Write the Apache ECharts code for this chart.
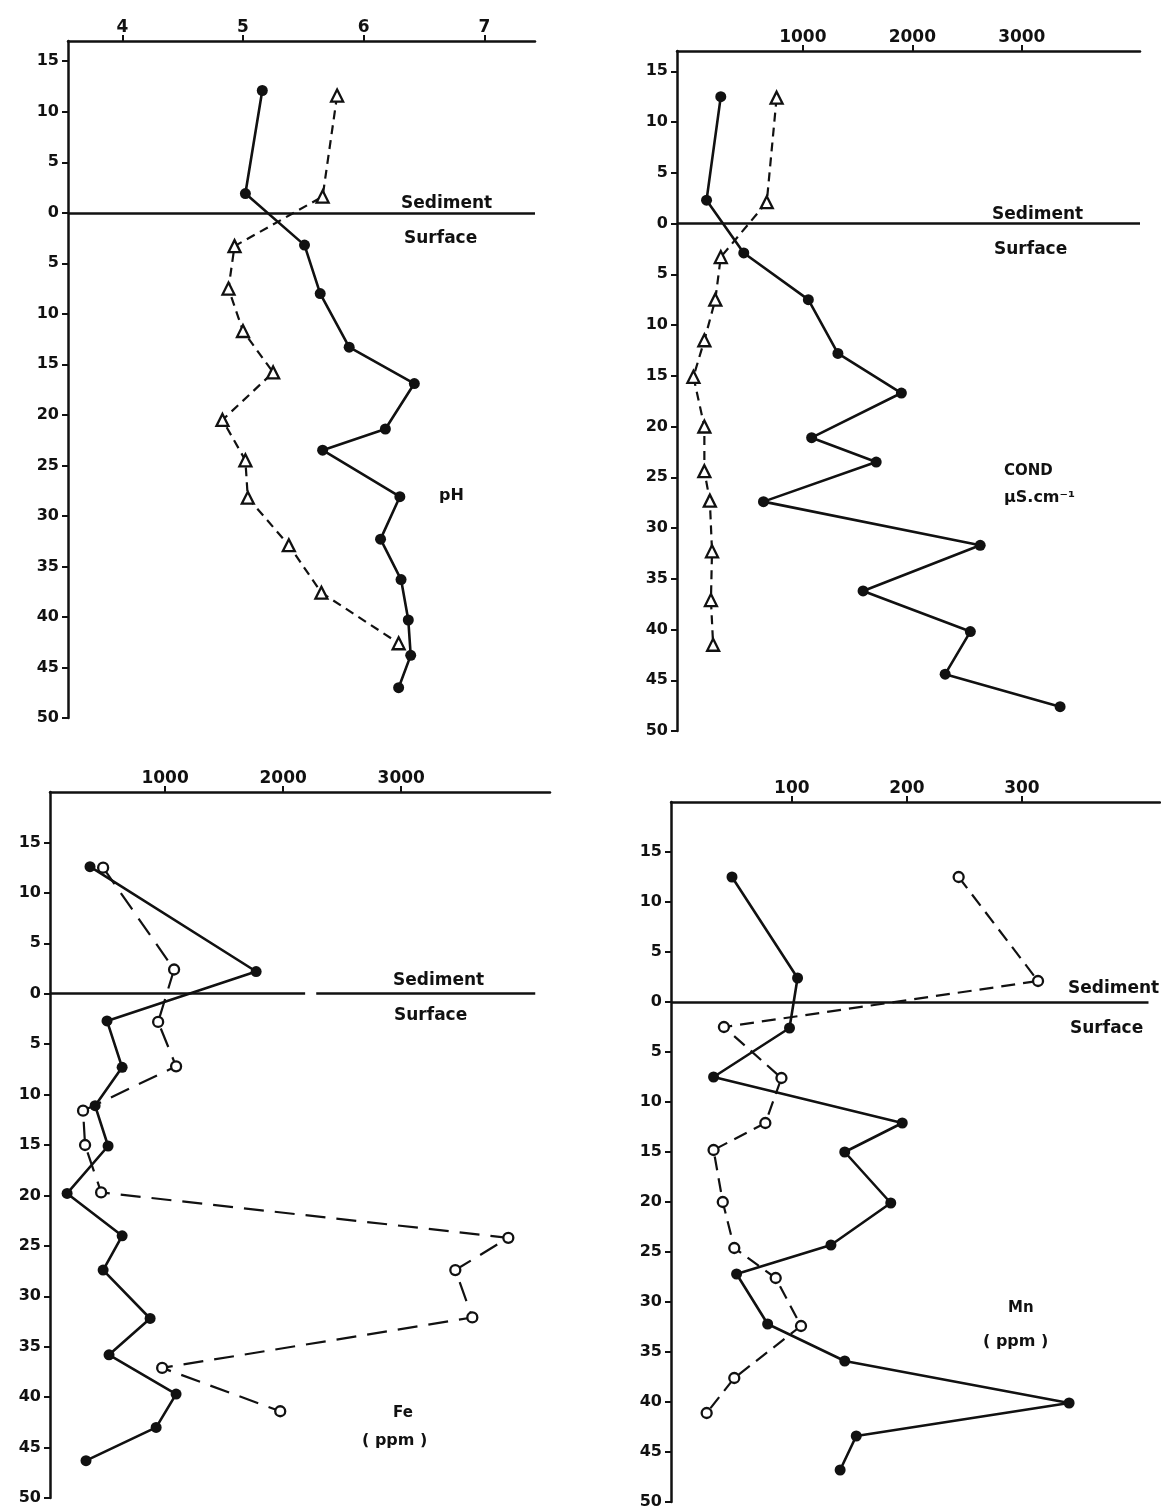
<!DOCTYPE html>
<html><head><meta charset="utf-8">
<script src="https://cdn.jsdelivr.net/npm/echarts@6/dist/echarts.min.js"></script>
<style>html,body{margin:0;padding:0;background:#fff}#c{width:1161px;height:1510px}</style>
</head><body><div id="c"></div>
<script>
// ---------- tick labels ----------
const depthTicks = [15,10,5,0,-5,-10,-15,-20,-25,-30,-35,-40,-45,-50];
const phTicks = [4,5,6,7];
const condTicks = [1000,2000,3000];
const feTicks = [1000,2000,3000];
const mnTicks = [100,200,300];

// ---------- pH ----------
const phSolidDepth = [12.1,1.9,-3.2,-8.0,-13.3,-16.9,-21.4,-23.5,-28.1,-32.3,-36.3,-40.3,-43.8,-47.0];
const phSolid      = [5.16,5.02,5.51,5.64,5.88,6.42,6.18,5.66,6.30,6.14,6.31,6.37,6.39,6.29];
const phOpenDepth  = [11.6,1.6,-3.3,-7.5,-11.7,-15.8,-20.5,-24.5,-28.2,-32.9,-37.6,-42.6];
const phOpen       = [5.78,5.66,4.93,4.88,5.00,5.25,4.83,5.02,5.04,5.38,5.65,6.29];

// ---------- COND (µS/cm) ----------
const condSolidDepth = [12.5,2.3,-2.9,-7.5,-12.8,-16.7,-21.1,-23.5,-27.4,-31.7,-36.2,-40.2,-44.4,-47.6];
const condSolid      = [250,120,460,1050,1320,1900,1080,1670,640,2620,1550,2530,2300,3350];
const condOpenDepth  = [12.4,2.1,-3.3,-7.5,-11.5,-15.1,-20.0,-24.4,-27.3,-32.3,-37.1,-41.5];
const condOpen       = [760,670,250,200,100,0,100,100,150,170,160,180];

// ---------- Fe (ppm) ----------
const feSolidDepth = [12.6,2.2,-2.7,-7.3,-11.1,-15.1,-19.8,-24.0,-27.4,-32.2,-35.8,-39.7,-43.0,-46.3];
const feSolid      = [364,1771,508,636,407,517,170,636,475,873,525,1093,924,330];
const feOpenDepth  = [12.5,2.4,-2.8,-7.2,-11.6,-15.0,-19.7,-24.2,-27.4,-32.1,-37.1,-41.4];
const feOpen       = [475,1076,941,1093,305,322,458,3907,3458,3602,975,1975];

// ---------- Mn (ppm) ----------
const mnSolidDepth = [12.5,2.4,-2.6,-7.5,-12.1,-15.0,-20.1,-24.3,-27.2,-32.2,-35.9,-40.1,-43.4,-46.8];
const mnSolid      = [48,105,98,32,196,146,186,134,52,79,146,341,156,142];
const mnOpenDepth  = [12.5,2.1,-2.5,-7.6,-12.1,-14.8,-20.0,-24.6,-27.6,-32.4,-37.6,-41.1];
const mnOpen       = [245,314,41,91,77,32,40,50,86,108,50,26];

const INK = '#111';
const FONT = 'DejaVu Sans';

function pairs(xs, ds){ return xs.map((v,i)=>[v, ds[i]]); }

const grids = [
  {left:68,  top:41,  width:467, height:677},
  {left:677, top:51,  width:463, height:680},
  {left:50,  top:792, width:500, height:706},
  {left:671, top:802, width:489, height:700}
];
const xCfg = [
  {min:3.55, max:7.42, ticks:phTicks},
  {min:-150, max:4080, ticks:condTicks},
  {min:25,   max:4260, ticks:feTicks},
  {min:-5,   max:420,  ticks:mnTicks}
];
const yCfg = [{max:17},{max:17},{max:20},{max:20}];

const xAxis = xCfg.map((c,i)=>({
  type:'value', gridIndex:i, position:'top', min:c.min, max:c.max,
  axisLine:{show:true, onZero:false, lineStyle:{color:INK, width:2.5}},
  axisTick:{show:true, length:6, lineStyle:{color:INK, width:2}, customValues:c.ticks},
  axisLabel:{show:true, customValues:c.ticks, color:INK, fontFamily:FONT, fontWeight:'bold', fontSize:17, margin:5,
    formatter:v=>String(v)},
  splitLine:{show:false}
}));
const yAxis = yCfg.map((c,i)=>({
  type:'value', gridIndex:i, min:-50, max:c.max,
  axisLine:{show:true, onZero:false, lineStyle:{color:INK, width:2.5}},
  axisTick:{show:true, length:6, lineStyle:{color:INK, width:2}, customValues:depthTicks},
  axisLabel:{show:true, customValues:depthTicks, color:INK, fontFamily:FONT, fontWeight:'bold', fontSize:16, margin:9,
    formatter:v=>String(Math.abs(v))},
  splitLine:{show:false}
}));

function solidSeries(i, xs, ds, surface){
  const s = {
    type:'line', xAxisIndex:i, yAxisIndex:i, data:pairs(xs,ds),
    symbol:'circle', symbolSize:11,
    itemStyle:{color:INK},
    lineStyle:{color:INK, width:2.6},
    animation:false, silent:true, z:3
  };
  if (surface) s.markLine = {symbol:'none', silent:true, animation:false, label:{show:false},
    lineStyle:{color:INK, width:2.6, type:'solid'}, data:surface};
  return s;
}
function openSeries(i, xs, ds, sym, dash){
  return {
    type:'line', xAxisIndex:i, yAxisIndex:i, data:pairs(xs,ds),
    symbol:sym, symbolSize: sym==='triangle'?12:10, showAllSymbol:true,
    itemStyle:{color:'#fff', borderColor:INK, borderWidth:2.3},
    lineStyle:{color:INK, width:2.2, type:dash},
    animation:false, silent:true, z:4
  };
}

const series = [
  solidSeries(0, phSolid, phSolidDepth, [[{coord:[3.55,0]},{coord:[7.42,0]}]]),
  openSeries(0, phOpen, phOpenDepth, 'triangle', [9,6]),
  solidSeries(1, condSolid, condSolidDepth, [[{coord:[-150,0]},{coord:[4080,0]}]]),
  openSeries(1, condOpen, condOpenDepth, 'triangle', [9,6]),
  solidSeries(2, feSolid, feSolidDepth, [[{coord:[25,0]},{coord:[2186,0]}],[{coord:[2280,0]},{coord:[4135,0]}]]),
  openSeries(2, feOpen, feOpenDepth, 'circle', [20,11]),
  solidSeries(3, mnSolid, mnSolidDepth, [[{coord:[-5,0]},{coord:[410,0]}]]),
  openSeries(3, mnOpen, mnOpenDepth, 'circle', [14,8])
];

// text placed by left edge and vertical centre
function txt(x, cy, t, size){
  return {type:'text', left:x, top:cy-Math.round(size*0.6), silent:true,
    style:{text:t, fill:INK, font:'bold '+size+'px "'+FONT+'"', textAlign:'left', textVerticalAlign:'top'}};
}
const graphic = [
  txt(401,205,'Sediment',17), txt(404,240,'Surface',17), txt(439,498,'pH',16),
  txt(992,216,'Sediment',17), txt(994,251,'Surface',17), txt(1004,473,'COND',15), txt(1004,500,'µS.cm⁻¹',16),
  txt(393,982,'Sediment',17), txt(394,1017,'Surface',17), txt(393,1415,'Fe',15), txt(362,1443,'( ppm )',16),
  txt(1068,990,'Sediment',17), txt(1070,1030,'Surface',17), txt(1008,1310,'Mn',15), txt(983,1344,'( ppm )',16)
];

const chart = echarts.init(document.getElementById('c'), null, {renderer:'canvas'});
chart.setOption({
  backgroundColor:'#fff', animation:false,
  grid:grids, xAxis:xAxis, yAxis:yAxis, series:series, graphic:graphic
});
</script></body></html>
